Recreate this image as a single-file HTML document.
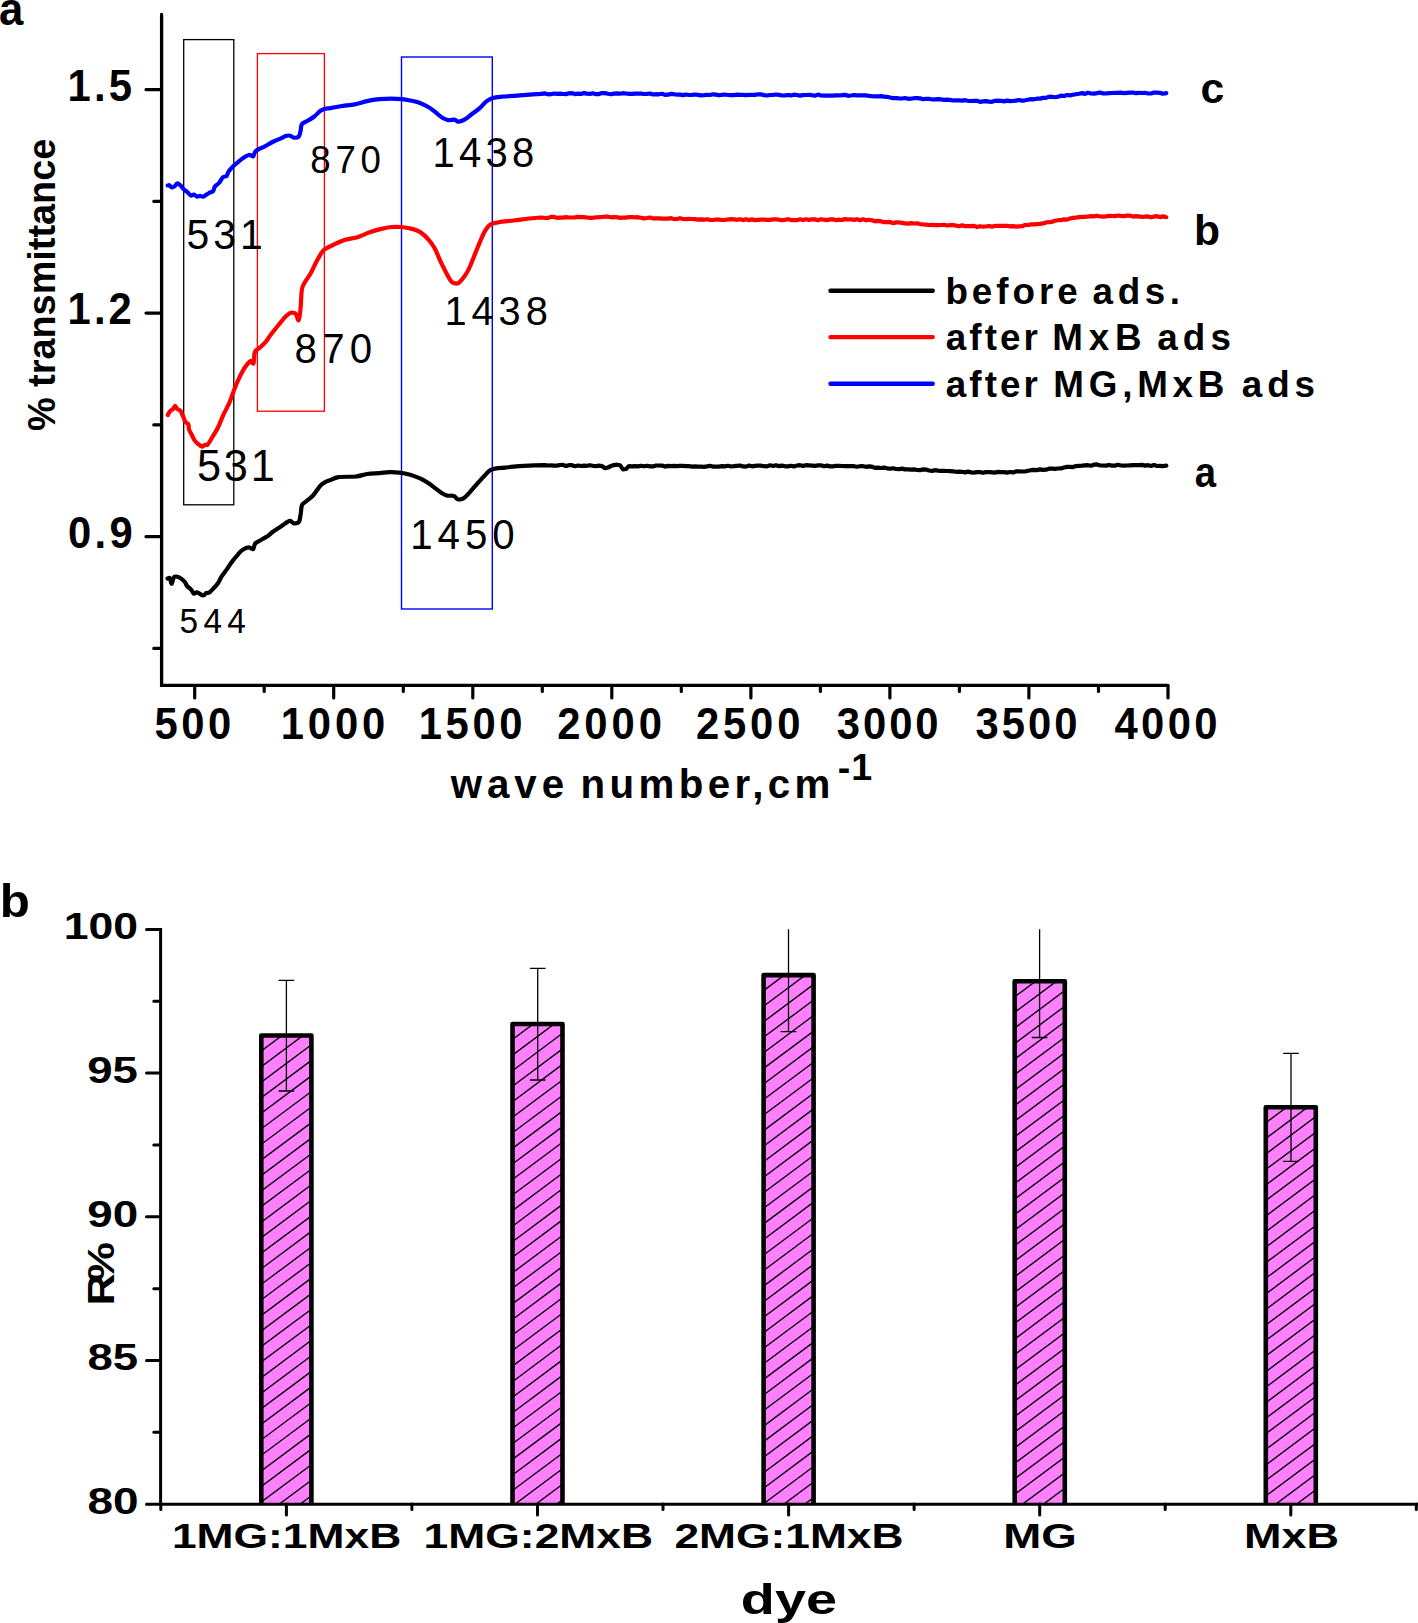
<!DOCTYPE html>
<html lang="en"><head><meta charset="utf-8"><title>FTIR spectra and dye removal</title>
<style>html,body{margin:0;padding:0;background:#fff}body{width:1418px;height:1623px;overflow:hidden}svg{display:block}text{font-family:'Liberation Sans', Arial, Helvetica, sans-serif;fill:#000}.b{font-weight:700}</style>
</head><body>
<svg width="1418" height="1623" viewBox="0 0 1418 1623">
<rect width="1418" height="1623" fill="#fff"/>
<g id="top">
<rect x="183.7" y="39.6" width="50.1" height="465.2" fill="none" stroke="#000" stroke-width="1.3"/>
<rect x="257.4" y="53.6" width="67" height="357.6" fill="none" stroke="#f00" stroke-width="1.3"/>
<rect x="401.5" y="57" width="90.8" height="552" fill="none" stroke="#00f" stroke-width="1.4"/>
<path d="M161.6 14.5V685.4H1168" fill="none" stroke="#000" stroke-width="3.3" stroke-linejoin="miter" stroke-linecap="round"/>
<path d="M146.0 89.6H161M153.8 201.3H161M146.0 313.1H161M153.8 424.9H161M146.0 536.6H161M153.8 648.4H161" stroke="#000" stroke-width="3.2" stroke-linecap="round" fill="none"/>
<path d="M194.7 686V698M264.2 686V691.5M333.7 686V698M403.3 686V691.5M472.8 686V698M542.3 686V691.5M611.8 686V698M681.3 686V691.5M750.9 686V698M820.4 686V691.5M889.9 686V698M959.4 686V691.5M1028.9 686V698M1098.5 686V691.5M1168.0 686V698" stroke="#000" stroke-width="3.2" stroke-linecap="round" fill="none"/>
<path d="M167.6 185.5C167.9 185.5 168.5 185.0 169.2 185.3C169.9 185.6 170.8 187.3 171.7 187.4C172.6 187.5 173.9 186.8 174.8 186.1C175.7 185.4 176.4 183.5 177.3 183.4C178.2 183.3 179.4 184.4 180.4 185.3C181.4 186.2 182.3 187.9 183.4 189.0C184.5 190.1 185.9 190.9 187.2 192.0C188.4 193.1 189.8 195.1 190.9 195.5C192.0 195.9 192.9 194.3 193.9 194.5C194.9 194.7 196.0 196.5 197.0 196.7C198.0 196.9 199.1 195.8 200.0 195.8C200.9 195.8 201.7 196.8 202.6 196.7C203.5 196.6 204.6 195.8 205.7 195.1C206.8 194.4 208.2 193.4 209.4 192.7C210.6 192.0 212.2 192.1 213.1 191.1C214.0 190.1 213.9 187.9 214.9 186.5C215.9 185.1 217.9 184.4 219.2 182.8C220.5 181.2 221.7 178.3 222.9 177.2C224.1 176.1 225.7 176.9 226.6 176.0C227.5 175.1 227.5 173.2 228.5 171.7C229.5 170.1 231.3 168.2 232.8 166.7C234.3 165.1 236.1 163.7 237.7 162.4C239.2 161.1 240.2 159.9 242.1 158.7C244.0 157.5 247.1 155.4 248.9 155.0C250.8 154.6 252.2 156.8 253.2 156.3C254.2 155.8 254.1 153.1 255.0 151.9C255.9 150.7 257.1 150.0 258.7 149.1C260.3 148.2 262.4 147.7 264.9 146.4C267.4 145.1 270.8 142.8 273.5 141.5C276.2 140.2 278.8 139.3 280.9 138.4C283.0 137.5 284.3 136.4 285.9 135.9C287.4 135.4 288.9 135.4 290.2 135.7C291.5 136.0 292.5 137.6 293.9 137.7C295.3 137.8 297.7 137.7 298.8 136.5C299.9 135.3 300.2 132.4 300.7 130.3C301.2 128.2 300.7 125.8 301.9 124.2C303.1 122.6 306.0 121.8 308.1 120.5C310.2 119.2 312.2 118.1 314.3 116.5C316.4 114.9 318.5 112.1 320.4 110.8C322.2 109.5 323.8 109.2 325.4 108.7C327.0 108.2 327.2 108.5 330.0 108.1C332.8 107.6 338.2 106.6 342.3 106.0C346.4 105.4 350.6 105.2 354.7 104.4C358.8 103.6 362.9 102.0 367.0 101.1C371.1 100.2 375.3 99.6 379.4 99.2C383.5 98.8 388.0 98.6 391.7 98.6C395.4 98.6 398.5 98.9 401.6 99.2C404.7 99.5 407.1 99.9 410.2 100.5C413.3 101.1 417.0 101.8 420.1 102.9C423.2 104.0 426.0 105.7 428.7 107.3C431.4 108.9 433.8 111.1 436.1 112.8C438.4 114.5 440.2 116.5 442.3 117.7C444.4 118.9 446.4 119.9 448.5 120.2C450.6 120.5 453.0 119.3 454.6 119.6C456.2 119.8 456.7 121.7 458.3 121.7C459.9 121.7 462.2 120.9 464.5 119.6C466.8 118.3 469.2 116.0 471.9 114.0C474.6 112.0 478.1 109.5 480.6 107.3C483.1 105.1 484.6 102.6 486.7 101.1C488.8 99.5 490.6 98.7 492.9 98.0C495.2 97.3 498.3 97.0 500.3 96.8C502.3 96.5 501.7 96.8 505.0 96.5C508.3 96.2 514.0 95.7 520.0 95.3C526.0 94.9 537.8 94.1 541.3 93.9L545.0 93.4L548.0 94.3L551.0 94.2L554.0 93.5L557.0 93.8L560.0 93.7L563.0 94.0L566.0 94.1L569.0 93.3L572.0 93.2L575.0 94.1L578.0 93.6L581.0 94.0L584.0 93.1L587.0 93.6L590.0 93.9L593.0 93.3L596.0 94.2L599.0 94.1L602.0 93.1L605.0 93.1L608.0 93.7L611.0 94.2L614.0 93.6L617.0 93.4L620.0 93.7L623.0 93.2L626.0 93.5L629.0 93.8L632.0 93.9L635.0 93.6L638.0 93.6L641.0 93.6L644.0 94.0L647.0 93.8L650.0 93.5L653.0 94.5L656.0 94.2L659.0 94.3L662.0 93.8L665.0 94.9L668.0 94.7L671.0 93.9L674.0 94.2L677.0 94.7L680.0 94.7L683.0 95.1L686.0 94.5L689.0 95.0L692.0 94.9L695.0 94.5L698.0 94.9L701.0 95.3L704.0 95.2L707.0 94.9L710.0 95.0L713.0 94.3L716.0 94.6L719.0 95.3L722.0 94.8L725.0 94.5L728.0 95.0L731.0 95.1L734.0 95.1L737.0 94.7L740.0 94.8L743.0 94.9L746.0 95.2L749.0 94.9L752.0 94.8L755.0 94.9L758.0 94.3L761.0 94.4L764.0 95.1L767.0 95.5L770.0 95.0L773.0 94.8L776.0 94.5L779.0 94.9L782.0 95.5L785.0 95.3L788.0 95.0L791.0 95.4L794.0 94.7L797.0 95.0L800.0 95.6L803.0 95.1L806.0 95.0L809.0 94.8L812.0 95.2L815.0 95.7L818.0 94.6L821.0 95.5L824.0 95.6L827.0 95.7L830.0 95.5L833.0 95.6L836.0 95.3L839.0 95.4L842.0 95.2L845.0 94.8L848.0 95.8L851.0 95.5L854.0 95.0L857.0 95.4L860.0 95.4L863.0 95.4L866.0 95.4L869.0 95.8L872.0 96.1L875.0 96.3L878.0 96.3L881.0 96.1L884.0 96.6L887.0 96.8L890.0 97.5L893.0 98.1L896.0 98.2L899.0 98.4L902.0 98.5L905.0 98.0L908.0 98.8L911.0 98.7L914.0 98.2L917.0 98.2L920.0 98.3L923.0 99.3L926.0 98.8L929.0 98.8L932.0 99.5L935.0 99.3L938.0 99.1L941.0 99.3L944.0 99.9L947.0 99.6L950.0 99.9L953.0 100.5L956.0 100.3L959.0 100.3L962.0 100.6L965.0 100.2L968.0 100.8L971.0 101.0L974.0 100.8L977.0 100.8L980.0 101.9L983.0 101.4L986.0 101.1L989.0 101.6L992.0 101.8L995.0 100.8L998.0 100.7L1001.0 100.8L1004.0 101.4L1007.0 100.6L1010.0 101.1L1013.0 100.9L1016.0 100.6L1019.0 100.0L1022.0 100.7L1025.0 100.3L1028.0 99.7L1031.0 99.1L1034.0 99.3L1037.0 98.7L1040.0 98.6L1043.0 97.9L1046.0 97.9L1049.0 96.8L1052.0 96.7L1055.0 97.2L1058.0 96.7L1061.0 95.6L1064.0 96.0L1067.0 95.0L1070.0 95.4L1073.0 94.8L1076.0 94.2L1079.0 93.7L1082.0 93.1L1085.0 93.9L1088.0 92.7L1091.0 93.5L1094.0 93.6L1097.0 93.1L1100.0 92.5L1103.0 93.4L1106.0 93.5L1109.0 93.2L1112.0 93.0L1115.0 92.8L1118.0 92.8L1121.0 92.6L1124.0 93.2L1127.0 92.9L1130.0 92.6L1133.0 92.5L1136.0 93.2L1139.0 92.8L1142.0 93.0L1145.0 92.8L1148.0 93.5L1151.0 93.5L1154.0 92.5L1157.0 92.7L1160.0 92.9L1163.0 93.7L1166.3 93.1" fill="none" stroke="#00f" stroke-width="4.2" stroke-linejoin="round" stroke-linecap="round"/>
<path d="M167.8 415.0C168.2 414.4 169.0 412.4 169.9 411.4C170.8 410.4 172.1 409.9 173.0 409.0C173.9 408.1 174.4 405.9 175.1 405.9C175.8 405.9 176.4 408.2 177.3 409.0C178.2 409.8 179.4 409.5 180.4 410.8C181.4 412.1 182.6 415.1 183.4 417.0C184.2 418.9 184.5 420.7 185.3 421.9C186.1 423.1 187.8 423.2 188.4 424.4C189.0 425.6 188.4 427.4 189.0 429.3C189.6 431.2 191.2 433.6 192.1 435.5C193.0 437.4 193.6 439.0 194.6 440.4C195.6 441.8 197.1 443.1 198.3 444.1C199.5 445.1 200.9 446.5 202.0 446.6C203.1 446.7 204.1 445.1 205.0 444.8C205.9 444.5 206.4 445.9 207.5 444.8C208.6 443.7 210.1 440.9 211.8 438.0C213.6 435.1 216.2 431.2 218.0 427.5C219.8 423.8 221.1 419.8 222.9 415.8C224.8 411.8 227.4 407.1 229.1 403.4C230.8 399.7 231.4 397.2 232.8 393.5C234.2 389.8 235.8 385.3 237.7 381.2C239.5 377.1 242.2 371.8 243.9 368.9C245.6 366.0 246.5 365.2 247.6 363.9C248.7 362.5 249.7 360.9 250.7 360.8C251.7 360.7 252.8 364.7 253.5 363.3C254.2 361.9 253.9 354.7 254.8 352.2C255.7 349.7 257.0 350.1 258.7 348.5C260.4 346.9 262.8 345.3 264.9 342.9C267.0 340.5 268.8 337.3 271.1 334.3C273.4 331.3 276.2 327.8 278.5 325.0C280.8 322.2 282.8 319.6 284.6 317.6C286.5 315.7 288.2 314.1 289.6 313.3C291.0 312.5 291.7 312.6 292.7 312.7C293.7 312.8 294.8 312.6 295.8 313.9C296.8 315.1 297.9 321.2 298.7 320.2C299.5 319.2 300.1 313.0 300.6 308.0C301.1 303.0 301.2 294.1 301.8 290.0C302.4 285.9 302.8 286.1 304.3 283.2C305.8 280.3 308.9 276.5 311.0 272.7C313.1 268.9 315.1 264.0 317.2 260.3C319.3 256.6 320.9 253.0 323.4 250.5C325.9 248.0 328.5 247.2 332.0 245.5C335.5 243.8 340.3 241.3 344.4 240.0C348.5 238.7 352.6 238.7 356.7 237.5C360.8 236.3 364.9 234.0 369.0 232.6C373.1 231.2 377.7 229.8 381.4 228.9C385.1 228.0 388.0 227.3 391.3 227.0C394.6 226.7 397.6 226.7 401.1 227.0C404.6 227.3 408.9 228.0 412.2 228.9C415.5 229.8 418.2 230.8 420.9 232.6C423.6 234.3 426.0 236.8 428.3 239.4C430.6 242.0 432.4 244.3 434.5 248.0C436.6 251.7 438.6 257.3 440.6 261.6C442.7 265.9 445.0 270.5 446.8 273.9C448.6 277.3 450.3 280.3 451.7 281.9C453.1 283.5 454.2 283.3 455.4 283.4C456.6 283.5 457.5 284.0 459.1 282.6C460.8 281.2 463.5 277.9 465.3 275.2C467.1 272.5 468.6 269.6 470.0 266.5C471.4 263.4 471.6 262.2 473.9 256.7C476.2 251.1 481.1 238.5 483.8 233.2C486.5 227.9 487.6 226.5 490.1 224.7C492.6 222.9 494.9 222.9 498.8 222.2C502.8 221.5 508.8 221.1 513.8 220.5C518.8 219.9 524.2 219.0 528.8 218.5C533.4 218.0 539.2 217.7 541.3 217.5L545.0 218.0L548.0 218.0L551.0 216.9L554.0 216.9L557.0 217.8L560.0 217.7L563.0 217.6L566.0 217.2L569.0 217.5L572.0 217.5L575.0 217.4L578.0 216.9L581.0 217.2L584.0 217.2L587.0 217.5L590.0 217.9L593.0 217.8L596.0 217.3L599.0 217.2L602.0 217.0L605.0 216.7L608.0 216.7L611.0 217.3L614.0 217.1L617.0 217.2L620.0 217.9L623.0 217.5L626.0 217.6L629.0 217.2L632.0 217.0L635.0 217.4L638.0 217.2L641.0 217.7L644.0 218.4L647.0 218.0L650.0 217.5L653.0 218.4L656.0 218.3L659.0 218.3L662.0 218.6L665.0 218.5L668.0 218.6L671.0 218.2L674.0 219.0L677.0 219.1L680.0 218.2L683.0 219.0L686.0 219.1L689.0 218.9L692.0 219.0L695.0 219.1L698.0 219.7L701.0 219.3L704.0 219.7L707.0 219.2L710.0 219.9L713.0 220.0L716.0 219.5L719.0 219.6L722.0 220.0L725.0 219.8L728.0 219.5L731.0 219.2L734.0 219.4L737.0 219.8L740.0 219.2L743.0 220.1L746.0 219.3L749.0 220.1L752.0 219.4L755.0 220.2L758.0 219.9L761.0 219.6L764.0 219.7L767.0 219.8L770.0 219.8L773.0 219.4L776.0 219.3L779.0 219.7L782.0 220.2L785.0 219.8L788.0 219.2L791.0 220.1L794.0 220.0L797.0 220.2L800.0 219.3L803.0 220.0L806.0 219.2L809.0 219.9L812.0 219.4L815.0 219.4L818.0 220.2L821.0 219.2L824.0 219.7L827.0 220.1L830.0 219.4L833.0 219.4L836.0 220.2L839.0 219.6L842.0 220.0L845.0 219.1L848.0 219.5L851.0 219.3L854.0 219.9L857.0 219.2L860.0 220.3L863.0 219.3L866.0 220.3L869.0 219.7L872.0 220.3L875.0 221.3L878.0 220.9L881.0 221.3L884.0 222.2L887.0 222.1L890.0 221.9L893.0 223.2L896.0 222.4L899.0 222.4L902.0 222.9L905.0 223.4L908.0 223.7L911.0 223.1L914.0 223.5L917.0 223.3L920.0 224.0L923.0 224.5L926.0 224.6L929.0 225.0L932.0 224.9L935.0 225.2L938.0 225.1L941.0 225.0L944.0 224.8L947.0 225.5L950.0 225.2L953.0 225.0L956.0 225.6L959.0 226.2L962.0 225.4L965.0 226.1L968.0 226.0L971.0 226.2L974.0 225.9L977.0 227.0L980.0 226.2L983.0 226.7L986.0 226.5L989.0 226.0L992.0 226.6L995.0 226.0L998.0 225.9L1001.0 225.8L1004.0 225.9L1007.0 225.8L1010.0 226.4L1013.0 226.1L1016.0 226.6L1019.0 226.3L1022.0 226.2L1025.0 225.0L1028.0 225.0L1031.0 224.4L1034.0 224.4L1037.0 224.1L1040.0 223.9L1043.0 223.4L1046.0 222.4L1049.0 222.2L1052.0 221.8L1055.0 220.7L1058.0 220.2L1061.0 220.2L1064.0 219.3L1067.0 219.6L1070.0 218.5L1073.0 217.9L1076.0 217.6L1079.0 217.2L1082.0 216.8L1085.0 216.9L1088.0 216.5L1091.0 216.1L1094.0 216.4L1097.0 215.7L1100.0 216.5L1103.0 216.6L1106.0 216.3L1109.0 215.9L1112.0 216.0L1115.0 216.1L1118.0 215.5L1121.0 215.9L1124.0 216.1L1127.0 215.7L1130.0 215.7L1133.0 216.6L1136.0 216.2L1139.0 216.4L1142.0 217.0L1145.0 216.7L1148.0 216.4L1151.0 217.3L1154.0 216.6L1157.0 216.2L1160.0 217.1L1163.0 216.4L1166.3 217.2" fill="none" stroke="#f00" stroke-width="4.2" stroke-linejoin="round" stroke-linecap="round"/>
<path d="M167.5 578.6C167.9 578.5 169.2 577.3 169.9 578.2C170.6 579.1 171.0 584.0 171.7 583.8C172.4 583.6 172.9 578.0 174.2 577.0C175.5 576.0 177.9 576.8 179.7 577.6C181.4 578.4 183.4 580.5 184.7 581.9C185.9 583.3 186.2 585.0 187.2 586.2C188.2 587.4 189.8 588.1 190.9 589.3C192.0 590.5 192.9 593.1 193.9 593.6C194.9 594.1 195.4 592.1 197.0 592.4C198.6 592.7 201.6 595.4 203.2 595.5C204.8 595.6 205.3 593.5 206.3 593.0C207.3 592.5 208.1 593.3 209.4 592.4C210.7 591.5 212.9 589.0 214.3 587.5C215.7 586.0 216.8 585.1 218.0 583.2C219.2 581.4 220.3 578.7 221.7 576.4C223.1 574.1 224.9 572.0 226.6 569.6C228.2 567.2 229.8 564.7 231.6 562.2C233.4 559.7 235.8 556.9 237.7 554.8C239.5 552.7 240.8 551.0 242.7 549.8C244.6 548.6 247.2 547.5 248.9 547.4C250.7 547.3 252.2 549.8 253.2 549.2C254.2 548.6 254.1 545.0 255.0 543.7C255.9 542.4 256.6 542.4 258.7 541.2C260.8 540.0 264.9 537.9 267.4 536.3C269.9 534.6 271.2 532.9 273.5 531.3C275.8 529.6 278.6 527.9 280.9 526.4C283.2 524.9 285.6 523.0 287.1 522.1C288.7 521.2 289.1 520.6 290.2 520.8C291.3 521.0 292.5 523.1 293.9 523.3C295.3 523.5 297.7 523.6 298.8 522.1C299.9 520.6 300.2 516.8 300.7 514.0C301.2 511.2 301.1 507.4 301.9 505.4C302.7 503.3 303.8 503.3 305.6 501.7C307.5 500.1 310.5 498.2 313.0 495.5C315.5 492.8 318.3 487.9 320.4 485.7C322.5 483.4 323.8 482.9 325.4 482.0C327.0 481.1 327.8 481.0 330.0 480.2C332.2 479.4 334.3 477.7 338.6 477.1C342.9 476.5 351.2 477.0 355.9 476.5C360.6 476.0 363.1 474.6 367.0 474.0C370.9 473.4 375.7 473.4 379.4 473.1C383.1 472.8 385.9 472.3 389.2 472.2C392.5 472.1 395.6 472.2 399.1 472.6C402.6 473.0 406.7 473.7 410.2 474.7C413.7 475.7 417.0 477.0 420.1 478.4C423.2 479.8 426.0 481.6 428.7 483.3C431.4 485.1 433.8 487.2 436.1 488.9C438.4 490.6 440.5 492.3 442.3 493.4C444.1 494.5 445.2 495.2 447.2 495.6C449.1 496.0 452.2 495.4 454.0 496.0C455.8 496.6 456.1 498.9 457.7 499.3C459.3 499.7 461.9 499.2 463.9 498.1C465.9 497.0 467.1 495.2 469.5 492.6C471.9 490.0 475.4 485.7 478.1 482.7C480.8 479.7 483.4 476.8 485.5 474.7C487.6 472.6 488.3 471.2 490.4 470.1C492.4 469.0 495.4 468.5 497.8 468.1C500.2 467.7 502.3 467.9 505.0 467.6C507.7 467.4 509.0 467.0 513.8 466.6C518.6 466.2 530.5 465.6 533.8 465.4L545.0 465.1L548.0 465.5L551.0 465.3L554.0 465.6L557.0 465.6L560.0 465.0L563.0 464.9L566.0 465.9L569.0 465.2L572.0 465.2L575.0 466.2L578.0 465.5L581.0 466.0L584.0 465.6L587.0 465.8L590.0 465.2L593.0 465.8L596.0 466.1L599.0 465.7L602.0 466.0L605.0 468.2L608.0 467.5L611.0 466.0L614.0 465.1L617.0 464.7L620.0 465.2L623.0 469.4L626.0 469.0L629.0 466.1L632.0 466.3L635.0 466.1L638.0 466.4L641.0 465.8L644.0 466.3L647.0 465.8L650.0 466.4L653.0 466.4L656.0 465.5L659.0 465.5L662.0 465.6L665.0 466.6L668.0 465.9L671.0 466.2L674.0 465.8L677.0 466.1L680.0 465.9L683.0 465.9L686.0 466.2L689.0 466.2L692.0 466.6L695.0 466.4L698.0 466.7L701.0 466.6L704.0 466.8L707.0 466.4L710.0 465.8L713.0 466.6L716.0 466.7L719.0 466.6L722.0 466.2L725.0 466.4L728.0 465.8L731.0 466.5L734.0 466.2L737.0 465.8L740.0 465.5L743.0 466.4L746.0 466.6L749.0 465.5L752.0 466.3L755.0 465.9L758.0 465.5L761.0 465.7L764.0 466.2L767.0 466.4L770.0 465.3L773.0 466.0L776.0 465.3L779.0 466.1L782.0 465.6L785.0 466.3L788.0 466.4L791.0 465.8L794.0 466.4L797.0 465.5L800.0 465.2L803.0 465.9L806.0 465.2L809.0 465.4L812.0 465.6L815.0 465.9L818.0 465.4L821.0 465.3L824.0 466.3L827.0 465.6L830.0 466.4L833.0 466.4L836.0 465.8L839.0 465.9L842.0 466.0L845.0 466.2L848.0 466.2L851.0 466.1L854.0 466.2L857.0 466.7L860.0 466.2L863.0 466.2L866.0 466.8L869.0 466.4L872.0 466.7L875.0 467.9L878.0 467.7L881.0 468.0L884.0 467.6L887.0 468.3L890.0 468.7L893.0 468.2L896.0 469.0L899.0 469.2L902.0 468.6L905.0 469.4L908.0 469.3L911.0 469.7L914.0 469.4L917.0 470.0L920.0 470.2L923.0 469.4L926.0 469.6L929.0 470.5L932.0 470.9L935.0 470.2L938.0 470.6L941.0 470.9L944.0 470.8L947.0 471.0L950.0 471.1L953.0 471.3L956.0 471.8L959.0 471.6L962.0 471.8L965.0 472.4L968.0 471.6L971.0 472.4L974.0 472.6L977.0 472.2L980.0 472.1L983.0 472.8L986.0 472.1L989.0 472.0L992.0 472.3L995.0 472.6L998.0 471.9L1001.0 472.2L1004.0 472.1L1007.0 472.6L1010.0 472.0L1013.0 472.4L1016.0 471.4L1019.0 471.3L1022.0 471.5L1025.0 471.5L1028.0 470.7L1031.0 470.2L1034.0 469.9L1037.0 470.1L1040.0 469.4L1043.0 469.9L1046.0 469.7L1049.0 468.7L1052.0 468.6L1055.0 468.9L1058.0 468.5L1061.0 468.4L1064.0 467.5L1067.0 466.9L1070.0 466.8L1073.0 467.1L1076.0 466.1L1079.0 465.9L1082.0 465.7L1085.0 465.4L1088.0 465.2L1091.0 465.7L1094.0 464.7L1097.0 464.4L1100.0 465.5L1103.0 465.5L1106.0 465.6L1109.0 465.0L1112.0 465.6L1115.0 465.6L1118.0 464.8L1121.0 465.5L1124.0 465.6L1127.0 465.5L1130.0 465.3L1133.0 465.1L1136.0 465.2L1139.0 465.1L1142.0 464.9L1145.0 465.6L1148.0 465.2L1151.0 465.9L1154.0 465.0L1157.0 466.0L1160.0 465.8L1163.0 466.1L1166.3 465.7" fill="none" stroke="#000" stroke-width="4.2" stroke-linejoin="round" stroke-linecap="round"/>
<path d="M830.5 290.7H932.7" stroke="#000" stroke-width="4.4" stroke-linecap="round" fill="none"/>
<path d="M830.5 337.1H932.7" stroke="#f00" stroke-width="4.4" stroke-linecap="round" fill="none"/>
<path d="M830.5 383.8H932.7" stroke="#00f" stroke-width="4.4" stroke-linecap="round" fill="none"/>
<text transform="translate(-1.1 25.4) scale(0.93 1)" font-size="47.0" class="b">a</text>
<text transform="translate(55.2 431.1) rotate(-90) scale(0.986 1)" font-size="38.4" class="b">% transmittance</text>
<text transform="translate(67.6 101.2) scale(1 1.041)" font-size="41.8" class="b" textLength="64.3">1.5</text>
<text transform="translate(67.6 324.2) scale(1 1.041)" font-size="41.8" class="b" textLength="64.2">1.2</text>
<text transform="translate(68.0 547.8) scale(1 1.041)" font-size="41.8" class="b" textLength="64.7">0.9</text>
<text transform="translate(154.6 739.2) scale(1 1.041)" font-size="41.8" class="b" textLength="76.6">500</text>
<text transform="translate(280.7 739.0) scale(1 1.041)" font-size="41.8" class="b" textLength="104.6">1000</text>
<text transform="translate(418.7 739.0) scale(1 1.041)" font-size="41.8" class="b" textLength="103.8">1500</text>
<text transform="translate(557.2 739.0) scale(1 1.041)" font-size="41.8" class="b" textLength="104.7">2000</text>
<text transform="translate(696.1 739.0) scale(1 1.041)" font-size="41.8" class="b" textLength="104.3">2500</text>
<text transform="translate(836.8 739.2) scale(1 1.041)" font-size="41.8" class="b" textLength="101.8">3000</text>
<text transform="translate(975.6 739.2) scale(1 1.041)" font-size="41.8" class="b" textLength="102.0">3500</text>
<text transform="translate(1114.4 739.0) scale(1 1.041)" font-size="41.8" class="b" textLength="103.1">4000</text>
<text y="798.0" font-size="40.3" class="b"><tspan x="450.8" textLength="113.3">wave</tspan> <tspan x="580.6" textLength="249.8">number,cm</tspan><tspan x="837.7" y="780.2" font-size="37.6" textLength="34.5">-1</tspan></text>
<text y="303.8" font-size="36.8" class="b"><tspan x="945.4" textLength="132.4">before</tspan> <tspan x="1092.6" textLength="87.4">ads.</tspan></text>
<text y="350.2" font-size="36.8" class="b"><tspan x="945.8" textLength="92.1">after</tspan> <tspan x="1052.3" textLength="89.3">MxB</tspan> <tspan x="1157.2" textLength="73.8">ads</tspan></text>
<text y="396.5" font-size="36.8" class="b"><tspan x="945.8" textLength="92.1">after</tspan> <tspan x="1053.3" textLength="171.1">MG,MxB</tspan> <tspan x="1241.8" textLength="73.2">ads</tspan></text>
<text transform="translate(1200.4 102.5) scale(1.004 1)" font-size="42.6" class="b">c</text>
<text transform="translate(1194.1 245.2) scale(1.025 1)" font-size="41.6" class="b">b</text>
<text transform="translate(1194.8 487.2) scale(0.893 1)" font-size="42.9" class="b">a</text>
<text transform="translate(186.4 248.6) scale(1 1.041)" font-size="40.9" textLength="76.3">531</text>
<text transform="translate(310.2 173.0) scale(1 1.041)" font-size="36.7" textLength="70.8">870</text>
<text transform="translate(432.4 167.0) scale(1 1.041)" font-size="40.0" textLength="101.9">1438</text>
<text transform="translate(444.5 325.0) scale(1 1.041)" font-size="39.8" textLength="103.3">1438</text>
<text transform="translate(294.5 363.2) scale(1 1.041)" font-size="40.3" textLength="77.7">870</text>
<text transform="translate(196.9 481.4) scale(1 1.041)" font-size="43.3" textLength="78.0">531</text>
<text transform="translate(410.3 549.4) scale(1 1.041)" font-size="40.3" textLength="104.4">1450</text>
<text transform="translate(179.6 632.8) scale(1 1.041)" font-size="33.4" textLength="66.2">544</text>
<text transform="translate(-0.2 916.8) scale(1.047 1)" font-size="47.1" class="b">b</text>
<text transform="translate(63.7 938.6) scale(1.214 1)" font-size="36.7" class="b">100</text>
<text transform="translate(87.2 1082.7) scale(1.243 1)" font-size="36.7" class="b">95</text>
<text transform="translate(87.2 1226.7) scale(1.247 1)" font-size="36.7" class="b">90</text>
<text transform="translate(87.4 1369.5) scale(1.241 1)" font-size="36.7" class="b">85</text>
<text transform="translate(87.4 1513.8) scale(1.253 1)" font-size="36.7" class="b">80</text>
<text transform="translate(171.9 1548.0) scale(1.247 1)" font-size="35.6" class="b">1MG:1MxB</text>
<text transform="translate(423.6 1548.0) scale(1.248 1)" font-size="35.6" class="b">1MG:2MxB</text>
<text transform="translate(674.4 1548.0) scale(1.246 1)" font-size="35.6" class="b">2MG:1MxB</text>
<text transform="translate(1003.3 1548.0) scale(1.282 1)" font-size="35.6" class="b">MG</text>
<text transform="translate(1243.9 1548.0) scale(1.264 1)" font-size="35.6" class="b">MxB</text>
<text transform="translate(740.8 1613.8) scale(1.298 1)" font-size="43.0" class="b">dye</text>
<text transform="translate(113.6 1305.4) rotate(-90) scale(1.217 1)" font-size="36.5" class="b">R<tspan dx="-6.7">%</tspan></text>
</g>
<g id="bottom">
<clipPath id="cb0"><rect x="261.3" y="1035.5" width="50.1" height="468.7"/></clipPath>
<rect x="261.3" y="1035.5" width="50.1" height="468.7" fill="#ff80ff"/>
<path d="M261.3 1051.0L311.4 1013.7M261.3 1066.6L311.4 1029.3M261.3 1082.2L311.4 1044.8M261.3 1097.7L311.4 1060.4M261.3 1113.2L311.4 1075.9M261.3 1128.8L311.4 1091.5M261.3 1144.3L311.4 1107.0M261.3 1159.9L311.4 1122.6M261.3 1175.5L311.4 1138.1M261.3 1191.0L311.4 1153.7M261.3 1206.5L311.4 1169.2M261.3 1222.1L311.4 1184.8M261.3 1237.7L311.4 1200.3M261.3 1253.2L311.4 1215.9M261.3 1268.8L311.4 1231.4M261.3 1284.3L311.4 1247.0M261.3 1299.8L311.4 1262.5M261.3 1315.4L311.4 1278.1M261.3 1331.0L311.4 1293.6M261.3 1346.5L311.4 1309.2M261.3 1362.0L311.4 1324.7M261.3 1377.6L311.4 1340.3M261.3 1393.2L311.4 1355.8M261.3 1408.7L311.4 1371.4M261.3 1424.2L311.4 1386.9M261.3 1439.8L311.4 1402.5M261.3 1455.3L311.4 1418.0M261.3 1470.9L311.4 1433.6M261.3 1486.5L311.4 1449.1M261.3 1502.0L311.4 1464.7M261.3 1517.5L311.4 1480.2M261.3 1533.1L311.4 1495.8" clip-path="url(#cb0)" stroke="#000" stroke-width="1.4" fill="none"/>
<path d="M261.3 1504.2V1035.5H311.4V1504.2" fill="none" stroke="#000" stroke-width="4.6" stroke-linejoin="round"/>
<clipPath id="cb1"><rect x="512.5" y="1024.0" width="50.1" height="480.2"/></clipPath>
<rect x="512.5" y="1024.0" width="50.1" height="480.2" fill="#ff80ff"/>
<path d="M512.5 1039.5L562.5 1002.2M512.5 1055.1L562.5 1017.8M512.5 1070.7L562.5 1033.3M512.5 1086.2L562.5 1048.9M512.5 1101.8L562.5 1064.4M512.5 1117.3L562.5 1080.0M512.5 1132.8L562.5 1095.5M512.5 1148.4L562.5 1111.1M512.5 1164.0L562.5 1126.6M512.5 1179.5L562.5 1142.2M512.5 1195.0L562.5 1157.7M512.5 1210.6L562.5 1173.3M512.5 1226.2L562.5 1188.8M512.5 1241.7L562.5 1204.4M512.5 1257.2L562.5 1219.9M512.5 1272.8L562.5 1235.5M512.5 1288.3L562.5 1251.0M512.5 1303.9L562.5 1266.6M512.5 1319.5L562.5 1282.1M512.5 1335.0L562.5 1297.7M512.5 1350.5L562.5 1313.2M512.5 1366.1L562.5 1328.8M512.5 1381.7L562.5 1344.3M512.5 1397.2L562.5 1359.9M512.5 1412.8L562.5 1375.4M512.5 1428.3L562.5 1391.0M512.5 1443.8L562.5 1406.5M512.5 1459.4L562.5 1422.1M512.5 1475.0L562.5 1437.6M512.5 1490.5L562.5 1453.2M512.5 1506.0L562.5 1468.7M512.5 1521.6L562.5 1484.3M512.5 1537.2L562.5 1499.8" clip-path="url(#cb1)" stroke="#000" stroke-width="1.4" fill="none"/>
<path d="M512.5 1504.2V1024.0H562.5V1504.2" fill="none" stroke="#000" stroke-width="4.6" stroke-linejoin="round"/>
<clipPath id="cb2"><rect x="763.6" y="975.1" width="50.1" height="529.1"/></clipPath>
<rect x="763.6" y="975.1" width="50.1" height="529.1" fill="#ff80ff"/>
<path d="M763.6 990.6L813.6 953.3M763.6 1006.2L813.6 968.9M763.6 1021.8L813.6 984.4M763.6 1037.3L813.6 1000.0M763.6 1052.8L813.6 1015.5M763.6 1068.4L813.6 1031.1M763.6 1084.0L813.6 1046.6M763.6 1099.5L813.6 1062.2M763.6 1115.0L813.6 1077.7M763.6 1130.6L813.6 1093.3M763.6 1146.2L813.6 1108.8M763.6 1161.7L813.6 1124.4M763.6 1177.2L813.6 1139.9M763.6 1192.8L813.6 1155.5M763.6 1208.3L813.6 1171.0M763.6 1223.9L813.6 1186.6M763.6 1239.5L813.6 1202.1M763.6 1255.0L813.6 1217.7M763.6 1270.5L813.6 1233.2M763.6 1286.1L813.6 1248.8M763.6 1301.7L813.6 1264.3M763.6 1317.2L813.6 1279.9M763.6 1332.8L813.6 1295.4M763.6 1348.3L813.6 1311.0M763.6 1363.8L813.6 1326.5M763.6 1379.4L813.6 1342.1M763.6 1395.0L813.6 1357.6M763.6 1410.5L813.6 1373.2M763.6 1426.1L813.6 1388.7M763.6 1441.6L813.6 1404.3M763.6 1457.2L813.6 1419.8M763.6 1472.7L813.6 1435.4M763.6 1488.2L813.6 1450.9M763.6 1503.8L813.6 1466.5M763.6 1519.3L813.6 1482.0M763.6 1534.9L813.6 1497.6" clip-path="url(#cb2)" stroke="#000" stroke-width="1.4" fill="none"/>
<path d="M763.6 1504.2V975.1H813.6V1504.2" fill="none" stroke="#000" stroke-width="4.6" stroke-linejoin="round"/>
<clipPath id="cb3"><rect x="1014.7" y="981.3" width="50.1" height="522.9"/></clipPath>
<rect x="1014.7" y="981.3" width="50.1" height="522.9" fill="#ff80ff"/>
<path d="M1014.7 996.8L1064.8 959.5M1014.7 1012.4L1064.8 975.1M1014.7 1028.0L1064.8 990.6M1014.7 1043.5L1064.8 1006.2M1014.7 1059.0L1064.8 1021.7M1014.7 1074.6L1064.8 1037.3M1014.7 1090.1L1064.8 1052.8M1014.7 1105.7L1064.8 1068.4M1014.7 1121.2L1064.8 1083.9M1014.7 1136.8L1064.8 1099.5M1014.7 1152.3L1064.8 1115.0M1014.7 1167.9L1064.8 1130.6M1014.7 1183.5L1064.8 1146.1M1014.7 1199.0L1064.8 1161.7M1014.7 1214.5L1064.8 1177.2M1014.7 1230.1L1064.8 1192.8M1014.7 1245.7L1064.8 1208.3M1014.7 1261.2L1064.8 1223.9M1014.7 1276.8L1064.8 1239.4M1014.7 1292.3L1064.8 1255.0M1014.7 1307.8L1064.8 1270.5M1014.7 1323.4L1064.8 1286.1M1014.7 1339.0L1064.8 1301.6M1014.7 1354.5L1064.8 1317.2M1014.7 1370.0L1064.8 1332.7M1014.7 1385.6L1064.8 1348.3M1014.7 1401.2L1064.8 1363.8M1014.7 1416.7L1064.8 1379.4M1014.7 1432.2L1064.8 1394.9M1014.7 1447.8L1064.8 1410.5M1014.7 1463.3L1064.8 1426.0M1014.7 1478.9L1064.8 1441.6M1014.7 1494.4L1064.8 1457.1M1014.7 1510.0L1064.8 1472.7M1014.7 1525.5L1064.8 1488.2M1014.7 1541.1L1064.8 1503.8" clip-path="url(#cb3)" stroke="#000" stroke-width="1.4" fill="none"/>
<path d="M1014.7 1504.2V981.3H1064.8V1504.2" fill="none" stroke="#000" stroke-width="4.6" stroke-linejoin="round"/>
<clipPath id="cb4"><rect x="1265.8" y="1107.3" width="50.1" height="396.9"/></clipPath>
<rect x="1265.8" y="1107.3" width="50.1" height="396.9" fill="#ff80ff"/>
<path d="M1265.8 1122.8L1315.8 1085.5M1265.8 1138.4L1315.8 1101.1M1265.8 1154.0L1315.8 1116.6M1265.8 1169.5L1315.8 1132.2M1265.8 1185.0L1315.8 1147.7M1265.8 1200.6L1315.8 1163.3M1265.8 1216.1L1315.8 1178.8M1265.8 1231.7L1315.8 1194.4M1265.8 1247.2L1315.8 1209.9M1265.8 1262.8L1315.8 1225.5M1265.8 1278.3L1315.8 1241.0M1265.8 1293.9L1315.8 1256.6M1265.8 1309.5L1315.8 1272.1M1265.8 1325.0L1315.8 1287.7M1265.8 1340.5L1315.8 1303.2M1265.8 1356.1L1315.8 1318.8M1265.8 1371.7L1315.8 1334.3M1265.8 1387.2L1315.8 1349.9M1265.8 1402.8L1315.8 1365.4M1265.8 1418.3L1315.8 1381.0M1265.8 1433.8L1315.8 1396.5M1265.8 1449.4L1315.8 1412.1M1265.8 1465.0L1315.8 1427.6M1265.8 1480.5L1315.8 1443.2M1265.8 1496.0L1315.8 1458.7M1265.8 1511.6L1315.8 1474.3M1265.8 1527.2L1315.8 1489.8" clip-path="url(#cb4)" stroke="#000" stroke-width="1.4" fill="none"/>
<path d="M1265.8 1504.2V1107.3H1315.8V1504.2" fill="none" stroke="#000" stroke-width="4.6" stroke-linejoin="round"/>
<path d="M160.6 927.9V1504.2H1418" fill="none" stroke="#000" stroke-width="3"/>
<path d="M146.5 929.4H160.6M153.8 1001.2H160.6M146.5 1073.1H160.6M153.8 1145.0H160.6M146.5 1216.8H160.6M153.8 1288.7H160.6M146.5 1360.5H160.6M153.8 1432.3H160.6M146.5 1504.2H160.6" stroke="#000" stroke-width="3" stroke-linecap="round" fill="none"/>
<path d="M160.8 1504V1509.5M286.4 1504V1515M411.9 1504V1509.5M537.5 1504V1515M663.0 1504V1509.5M788.6 1504V1515M914.1 1504V1509.5M1039.7 1504V1515M1165.2 1504V1509.5M1290.8 1504V1515M1416.3 1504V1509.5" stroke="#000" stroke-width="3" stroke-linecap="round" fill="none"/>
<path d="M286.4 980.4V1091.0M278.6 980.4H294.2M278.6 1091.0H294.2" stroke="#000" stroke-width="1.3" fill="none"/>
<path d="M537.7 968.3V1080.0M529.9 968.3H545.5M529.9 1080.0H545.5" stroke="#000" stroke-width="1.3" fill="none"/>
<path d="M788.5 929.2V1031.7M780.7 1031.7H796.3" stroke="#000" stroke-width="1.3" fill="none"/>
<path d="M1039.6 929.2V1037.5M1031.8 1037.5H1047.4" stroke="#000" stroke-width="1.3" fill="none"/>
<path d="M1291.0 1053.4V1161.3M1283.2 1053.4H1298.8M1283.2 1161.3H1298.8" stroke="#000" stroke-width="1.3" fill="none"/>
</g>
</svg>
</body></html>
